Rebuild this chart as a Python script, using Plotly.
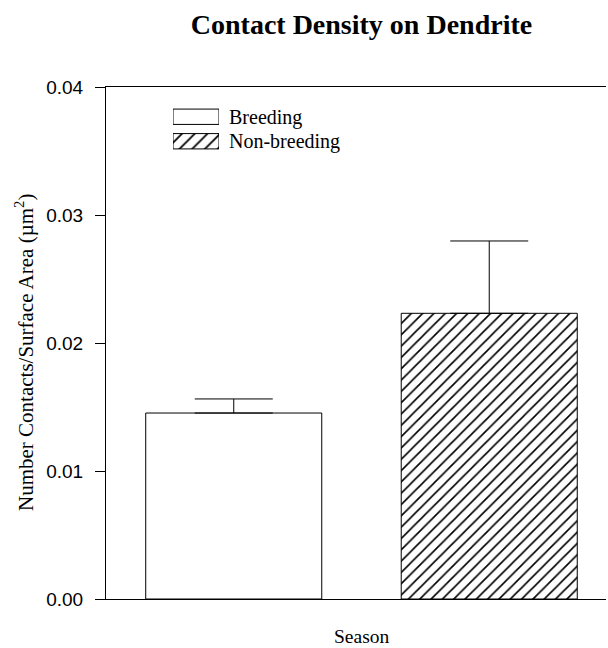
import plotly.graph_objects as go

# ---- data ----
seasons = ["Breeding", "Non-breeding"]
means = [0.01453, 0.02232]
errors_up = [0.00110, 0.00565]
hatch_shapes = ["", "/"]
y_ticks = [0.00, 0.01, 0.02, 0.03, 0.04]
y_tick_labels = ["0.00", "0.01", "0.02", "0.03", "0.04"]
legend_values = [1, 1]

SERIF = "Liberation Serif, Times New Roman, serif"
SANS = "Liberation Sans, Arial, sans-serif"

fig = go.Figure()

# main bars
for i, s in enumerate(seasons):
    fig.add_trace(go.Bar(
        x=[s], y=[means[i]], width=0.689,
        marker=dict(color="white", line=dict(color="black", width=1),
                    pattern=dict(shape=hatch_shapes[i], fgcolor="black", bgcolor="white",
                                 size=8, solidity=0.2, fillmode="replace")),
        error_y=dict(type="data", symmetric=False, array=[errors_up[i]], arrayminus=[0],
                     color="black", thickness=1, width=39),
        showlegend=False, xaxis="x", yaxis="y",
    ))

# legend drawn as a tiny subplot
for i, s in enumerate(seasons):
    fig.add_trace(go.Bar(
        y=[s], x=[legend_values[i]], orientation="h", width=0.625,
        marker=dict(color="white", line=dict(color="black", width=1),
                    pattern=dict(shape=hatch_shapes[i], fgcolor="black", bgcolor="white",
                                 size=9, solidity=0.2, fillmode="replace")),
        showlegend=False, xaxis="x2", yaxis="y2", hoverinfo="skip",
    ))

fig.update_layout(
    width=608, height=648,
    margin=dict(l=106, r=2, t=87, b=49),
    paper_bgcolor="white", plot_bgcolor="white",
    showlegend=False,
    title=dict(text="<b>Contact Density on Dendrite</b>",
               font=dict(family=SERIF, size=28, color="black"),
               x=361.5 / 608, xanchor="center", xref="container",
               y=1 - 24 / 648, yanchor="middle", yref="container"),
    xaxis=dict(domain=[0, 1], range=[-0.5, 1.457], showline=True, linecolor="black", linewidth=1,
               mirror=True, showticklabels=False, ticks="", showgrid=False, zeroline=False),
    yaxis=dict(domain=[0, 1], range=[0, 0.04], tickvals=y_ticks, ticktext=y_tick_labels,
               showline=True, linecolor="black", linewidth=1, ticks="outside", ticklen=10,
               tickcolor="black", tickwidth=1, ticklabelstandoff=8,
               tickfont=dict(family=SANS, size=19, color="black"),
               showgrid=False, zeroline=False),
    xaxis2=dict(domain=[(173 - 106) / 500, (219 - 106) / 500], anchor="y2", range=[0, 1],
                visible=False, fixedrange=True),
    yaxis2=dict(domain=[(599 - 153.5) / 512, (599 - 104.5) / 512], anchor="x2",
                range=[1.5, -0.5], side="right", showline=False, showgrid=False, zeroline=False,
                ticks="", ticklabelstandoff=9,
                tickfont=dict(family=SERIF, size=20, color="black")),
    annotations=[
        dict(text="Season", xref="paper", yref="paper", x=(361.5 - 106) / 500,
             y=(599 - 636) / 512, xanchor="center", yanchor="middle", showarrow=False,
             font=dict(family=SERIF, size=19.5, color="black")),
        dict(text="Number Contacts/Surface Area (µm<sup>2</sup>)", xref="paper", yref="paper",
             x=(24 - 106) / 500, y=(599 - 353) / 512, textangle=-90,
             xanchor="center", yanchor="middle", showarrow=False,
             font=dict(family=SERIF, size=21, color="black")),
    ],
)

fig.write_html("out.html")
